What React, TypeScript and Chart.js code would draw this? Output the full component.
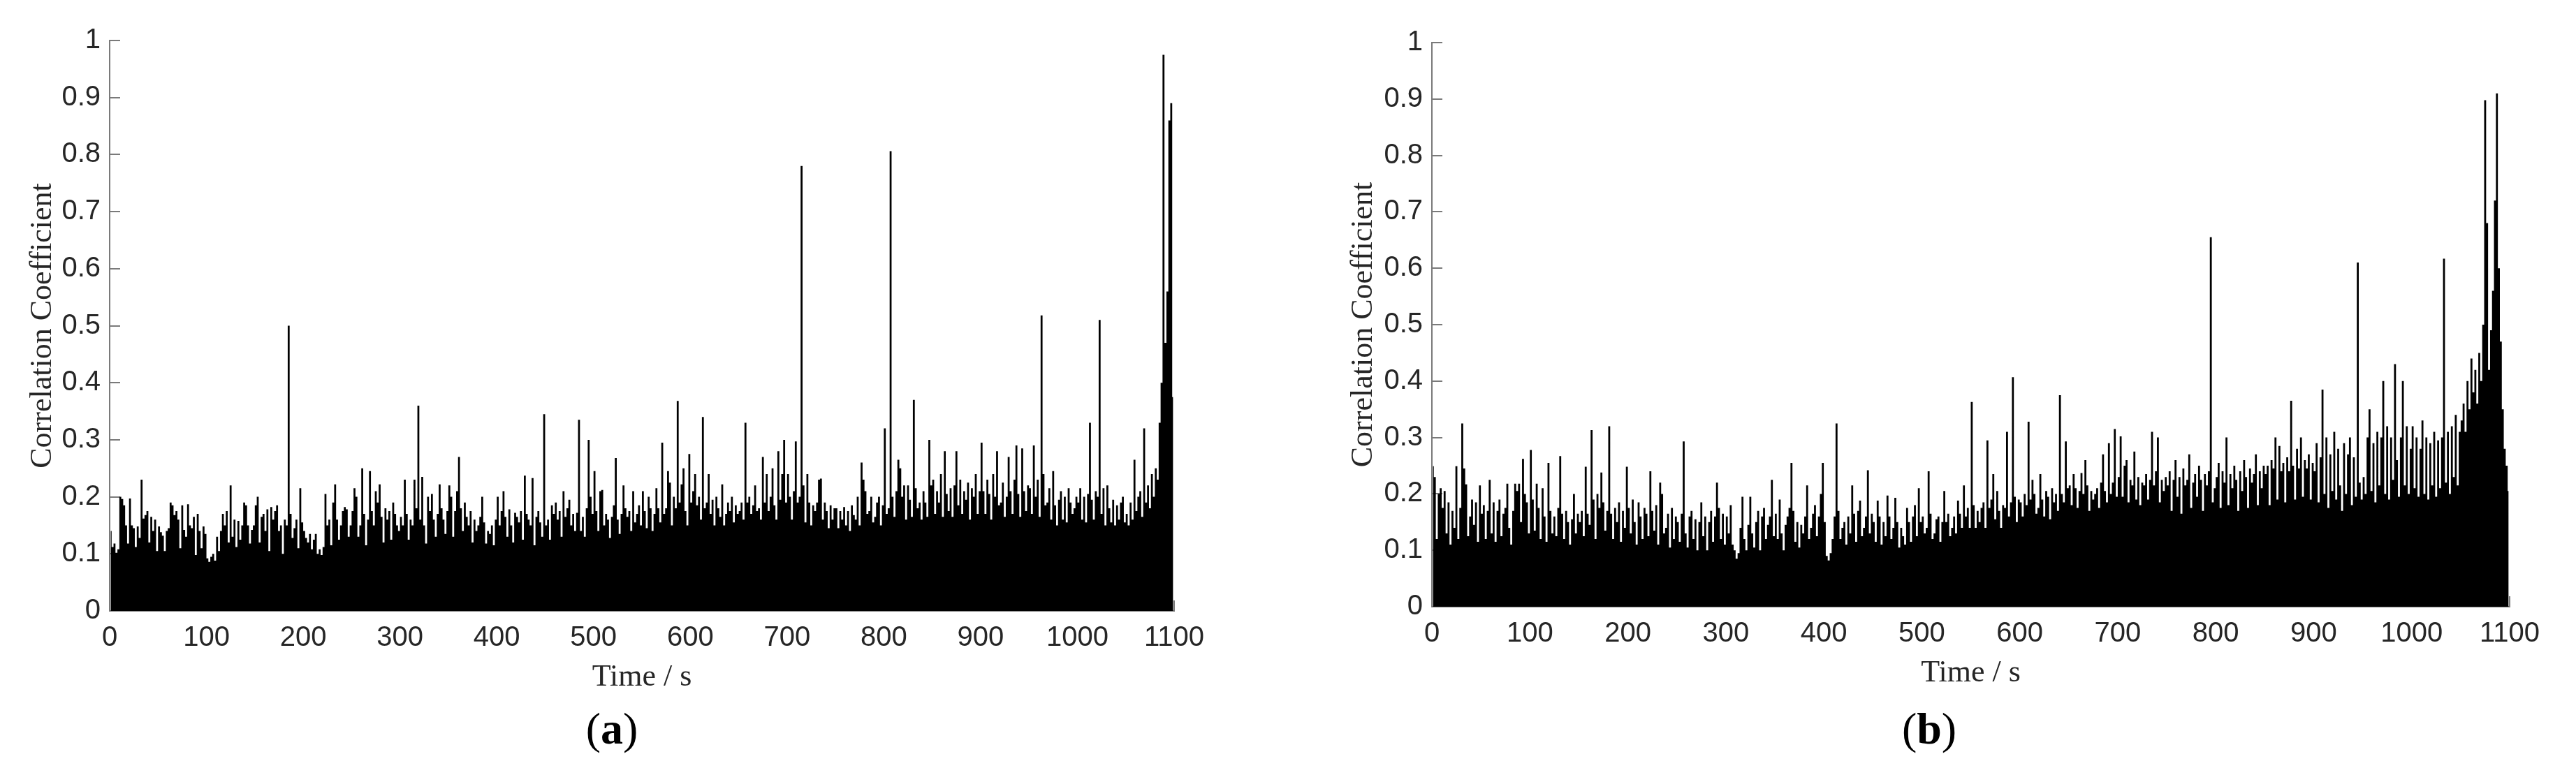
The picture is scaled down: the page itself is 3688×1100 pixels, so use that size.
import React, { useEffect, useRef } from 'react';
import { Chart, registerables } from 'chart.js';

Chart.register(...registerables);

// ---------- data ----------
const binSeconds = 2;
const xTickValues = [0, 100, 200, 300, 400, 500, 600, 700, 800, 900, 1000, 1100];
const xTickLabels = ['0', '100', '200', '300', '400', '500', '600', '700', '800', '900', '1000', '1100'];
const yTickValues = [0, 0.1, 0.2, 0.3, 0.4, 0.5, 0.6, 0.7, 0.8, 0.9, 1];
const yTickLabels = ['0', '0.1', '0.2', '0.3', '0.4', '0.5', '0.6', '0.7', '0.8', '0.9', '1'];
const xTitle = 'Time / s';
const yTitle = 'Correlation Coefficient';

// peak correlation coefficient in each 2-s bin (thousandths), panel (a)
const peaksA = [
  140,112,118,102,108,200,196,185,150,118,197,150,145,112,148,128,230,162,168,175,120,165,140,160,105,
  148,138,132,105,140,145,190,185,168,175,160,110,185,142,130,187,150,145,165,98,170,140,110,148,135,
  92,86,95,100,88,130,105,140,170,150,175,120,220,130,160,112,158,125,150,190,185,150,118,142,150,
  185,200,120,165,170,140,178,105,182,160,175,185,140,150,100,160,150,500,170,128,145,160,110,215,155,
  140,128,120,135,108,125,135,100,108,98,112,205,150,160,115,190,222,160,125,150,175,182,178,130,150,
  175,215,200,130,150,250,170,115,160,245,175,150,210,190,222,165,120,180,160,175,125,190,170,150,140,
  165,150,230,170,125,160,150,230,180,360,160,235,150,118,200,175,205,160,130,170,222,180,160,135,175,
  220,200,130,175,210,270,180,140,190,165,150,175,120,160,140,150,165,200,155,118,140,135,150,115,160,
  200,150,175,210,165,130,178,150,120,172,165,155,175,125,237,170,160,150,233,115,165,175,155,130,345,
  150,160,125,185,170,190,160,175,130,210,165,180,195,150,170,140,172,335,140,165,130,180,300,200,170,
  245,175,140,210,212,150,170,160,128,165,185,268,160,135,170,220,180,165,175,140,210,155,170,185,150,
  210,175,145,200,180,140,170,215,180,155,295,170,180,245,225,150,200,180,368,190,222,250,175,150,275,
  190,210,240,185,200,160,340,180,190,240,170,195,150,200,180,165,222,150,170,190,175,200,155,185,170,
  175,190,160,330,190,200,170,185,220,175,180,160,270,190,240,175,200,250,185,160,280,195,240,300,190,
  240,200,160,210,297,190,200,780,220,155,240,190,150,185,175,190,230,232,160,190,175,145,185,160,180,
  180,145,175,160,182,150,175,140,185,168,160,200,150,260,230,210,170,175,200,155,165,190,200,150,185,
  320,170,180,806,200,165,210,265,250,200,220,160,220,195,165,370,215,180,190,160,210,190,165,300,220,
  230,170,210,190,240,165,280,205,175,215,165,220,280,185,230,170,210,195,225,160,215,200,240,170,210,
  295,210,170,230,205,160,240,200,280,185,190,225,165,200,270,210,170,230,290,205,165,285,210,175,220,
  215,170,290,200,230,165,518,240,185,190,215,160,245,185,150,195,210,160,200,155,215,190,170,180,200,
  190,215,160,200,155,205,330,195,160,210,200,510,170,215,150,220,180,155,195,150,185,160,190,200,155,
  170,150,190,160,265,175,200,210,165,320,190,220,180,240,200,250,230,330,400,975,470,560,860,890,375,
];

// peak correlation coefficient in each 2-s bin (thousandths), panel (b)
const peaksB = [
  249,230,120,200,210,175,205,130,185,110,170,140,249,120,175,325,245,217,125,160,190,145,185,115,215,
  165,180,120,170,225,130,185,115,170,190,125,165,175,218,140,110,170,218,205,218,150,262,200,185,130,
  278,190,135,218,175,120,210,160,115,255,170,130,160,125,175,267,165,120,170,150,110,155,200,130,165,
  150,170,125,248,165,145,313,190,120,200,175,238,185,135,170,320,165,120,175,150,185,115,170,140,248,
  175,130,190,150,110,185,160,120,175,165,125,240,170,135,180,110,220,200,130,140,165,105,175,120,160,
  150,115,165,293,130,105,160,170,120,155,100,150,185,125,160,100,150,170,115,160,220,175,120,165,110,
  160,130,180,110,100,85,95,140,195,120,100,145,195,130,105,150,170,100,160,175,120,145,160,225,125,
  165,120,190,130,100,145,160,175,255,170,115,150,105,145,130,160,215,120,140,165,180,125,160,200,255,
  150,90,82,95,120,160,325,170,120,140,150,110,160,130,215,165,115,170,188,125,140,160,242,130,165,
  150,115,188,160,110,150,125,197,160,120,140,193,150,105,140,125,110,175,150,115,160,180,125,210,150,
  160,130,140,240,165,120,130,155,160,115,150,205,150,165,125,140,160,130,188,165,140,215,160,175,140,
  363,180,140,170,150,175,185,140,295,175,190,235,155,205,170,140,180,175,310,160,185,407,195,150,190,
  185,160,200,180,328,190,225,200,165,175,235,190,160,205,195,155,210,185,200,170,375,200,185,293,210,
  215,180,235,210,175,205,237,200,260,215,170,205,190,200,210,175,220,270,205,185,290,200,220,315,195,
  230,302,195,250,260,185,225,215,275,190,230,180,220,215,235,190,225,310,215,240,300,185,225,205,230,
  215,240,170,225,260,195,230,165,245,215,225,270,175,220,235,195,250,225,170,235,215,240,655,185,210,
  230,255,175,240,220,300,180,235,210,250,225,170,240,205,260,230,175,245,220,235,270,180,240,210,250,
  235,250,180,260,245,300,190,285,240,255,185,265,240,365,250,190,280,245,300,195,260,245,270,190,255,
  240,290,185,265,385,200,300,175,270,205,310,190,280,215,170,290,200,270,300,180,265,195,610,220,190,
  230,200,300,350,205,290,185,310,215,300,400,200,320,190,300,225,430,260,195,300,400,215,320,200,280,
  320,210,300,195,280,330,200,300,190,290,215,310,195,295,210,300,617,220,310,200,320,230,340,215,310,
  330,360,310,400,350,440,380,420,360,450,400,500,898,680,420,490,560,720,910,600,470,350,280,250,205,
];

// ---------- styling / layout ----------
const CANVAS_W = 1844;
const CANVAS_H = 1100;
const TICK_FONT = "'Liberation Sans', Arial, Helvetica, sans-serif";
const SERIF = "'Liberation Serif', 'Times New Roman', Times, serif";
const TEXT_COLOR = '#262626';
const AXIS_COLOR = '#7a7a7a';

type PanelLayout = { left: number; right: number; top: number; bottom: number; yTitleX: number; xTitleY: number };

const layoutA: PanelLayout = { left: 157, right: 1681, top: 58, bottom: 875, yTitleX: 61, xTitleY: 970 };
const layoutB: PanelLayout = { left: 206, right: 1749, top: 61, bottom: 869, yTitleX: 108, xTitleY: 964 };

const innerTicks = {
  id: 'innerTicks',
  beforeDatasetsDraw(chart: any) {
    const { ctx, chartArea, scales } = chart;
    const x = scales.x;
    const y = scales.y;
    ctx.save();
    ctx.strokeStyle = AXIS_COLOR;
    ctx.lineWidth = 2;
    ctx.beginPath();
    for (const v of yTickValues) {
      const py = Math.round(y.getPixelForValue(v));
      ctx.moveTo(chartArea.left, py);
      ctx.lineTo(chartArea.left + 15, py);
    }
    for (const v of xTickValues) {
      const px = Math.round(x.getPixelForValue(v));
      ctx.moveTo(px, chartArea.bottom);
      ctx.lineTo(px, chartArea.bottom - 15);
    }
    ctx.stroke();
    ctx.restore();
  },
};

function Panel({ peaks, layout, canvasLeft }: { peaks: number[]; layout: PanelLayout; canvasLeft: number }) {
  const ref = useRef<HTMLCanvasElement>(null);
  useEffect(() => {
    const points = peaks.map((v, i) => ({ x: i * binSeconds + binSeconds / 2, y: v / 1000 }));
    const chart = new Chart(ref.current as HTMLCanvasElement, {
      type: 'line',
      data: {
        datasets: [
          {
            data: points as any,
            stepped: 'middle',
            fill: 'origin',
            backgroundColor: '#000000',
            borderColor: 'rgba(0,0,0,0)',
            borderWidth: 0,
            pointRadius: 0,
            pointHoverRadius: 0,
            tension: 0,
          } as any,
        ],
      },
      options: {
        animation: false,
        responsive: false,
        devicePixelRatio: 1,
        layout: { padding: { top: layout.top, right: CANVAS_W - layout.right, bottom: 0, left: 0 } },
        plugins: { legend: { display: false }, tooltip: { enabled: false } },
        scales: {
          x: {
            type: 'linear',
            min: 0,
            max: 1100,
            offset: false,
            afterBuildTicks: (s: any) => {
              s.ticks = xTickValues.map((value) => ({ value }));
            },
            ticks: {
              autoSkip: false,
              maxRotation: 0,
              padding: 15,
              color: TEXT_COLOR,
              font: { family: TICK_FONT, size: 40 },
              callback: (_v: any, i: number) => xTickLabels[i],
            },
            grid: { display: false, drawTicks: false },
            border: { display: true, color: AXIS_COLOR, width: 2 },
            title: {
              display: true,
              text: xTitle,
              color: TEXT_COLOR,
              font: { family: SERIF, size: 44 },
              padding: { top: 0, bottom: CANVAS_H - layout.xTitleY - 26.4 },
            },
            afterFit: (s: any) => {
              s.height = CANVAS_H - layout.bottom;
            },
          } as any,
          y: {
            type: 'linear',
            min: 0,
            max: 1,
            afterBuildTicks: (s: any) => {
              s.ticks = yTickValues.map((value) => ({ value }));
            },
            ticks: {
              padding: 13,
              color: TEXT_COLOR,
              font: { family: TICK_FONT, size: 40 },
              callback: (_v: any, i: number) => yTickLabels[i],
            },
            grid: { display: false, drawTicks: false },
            border: { display: true, color: AXIS_COLOR, width: 2 },
            title: {
              display: true,
              text: yTitle,
              color: TEXT_COLOR,
              font: { family: SERIF, size: 44 },
              padding: { top: layout.yTitleX - 26.4, bottom: 0 },
            },
            afterFit: (s: any) => {
              s.width = layout.left;
            },
          } as any,
        },
      },
      plugins: [innerTicks],
    });
    return () => chart.destroy();
  }, []);
  return (
    <canvas
      ref={ref}
      width={CANVAS_W}
      height={CANVAS_H}
      style={{ position: 'absolute', left: canvasLeft, top: 0, width: CANVAS_W, height: CANVAS_H, display: 'block' }}
    />
  );
}

function SubLabel({ letter, centerX }: { letter: string; centerX: number }) {
  return (
    <div
      style={{
        position: 'absolute',
        left: centerX - 100,
        top: 1012,
        width: 200,
        textAlign: 'center',
        fontFamily: SERIF,
        fontSize: 64,
        lineHeight: '64px',
        color: '#000',
      }}
    >
      (<b>{letter}</b>)
    </div>
  );
}

export default function App() {
  return (
    <div style={{ position: 'absolute', left: 0, top: 0, width: 3688, height: 1100, background: '#fff', overflow: 'hidden' }}>
      <Panel peaks={peaksA} layout={layoutA} canvasLeft={0} />
      <Panel peaks={peaksB} layout={layoutB} canvasLeft={1844} />
      <SubLabel letter="a" centerX={876} />
      <SubLabel letter="b" centerX={2762} />
    </div>
  );
}
